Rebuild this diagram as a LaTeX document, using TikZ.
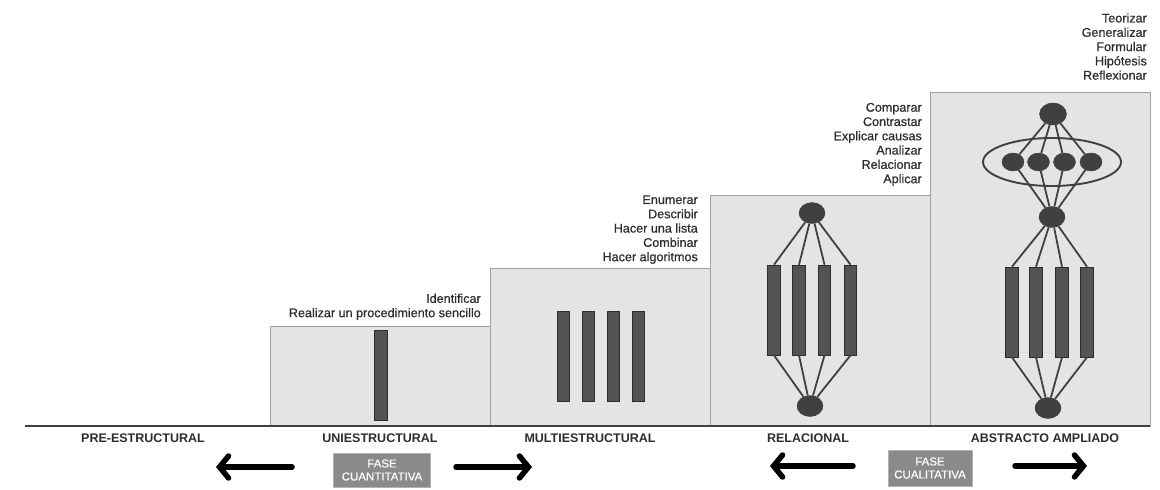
\documentclass[tikz,border=0pt]{standalone}
\usepackage{fontspec}
\setmainfont{Liberation Sans}
\newfontfamily\verbfont{Liberation Sans}[FakeBold=0.6]
\usetikzlibrary{shapes.geometric,arrows.meta}
\definecolor{boxfill}{HTML}{E4E4E4}
\definecolor{boxline}{HTML}{A0A0A0}
\definecolor{ink}{HTML}{404040}
\definecolor{txt}{HTML}{2E2E2E}
\definecolor{phasefill}{HTML}{8A8A8A}
\begin{document}
\begin{tikzpicture}[x=1pt,y=-1pt,
  level/.style={rectangle, draw=boxline, fill=boxfill, line width=1pt, anchor=south west, inner sep=0, outer sep=0},
  bar/.style={rectangle, draw=ink!70!black, fill=ink!90, line width=0.6pt, minimum width=12.5pt, minimum height=90pt, inner sep=0},
  blob/.style={ellipse, fill=ink, draw=ink, minimum width=26pt, minimum height=21pt, inner sep=0},
  dot/.style={blob, minimum width=22pt, minimum height=18pt},
  link/.style={draw=ink, line width=1.8pt},
  verbs/.style={align=right, anchor=south east, font=\verbfont\fontsize{12.6}{14.3}\selectfont, text=txt, inner sep=0},
  stage/.style={font=\bfseries\fontsize{12.5}{13}\selectfont, text=txt, inner sep=0},
  phase/.style={rectangle, fill=phasefill, draw=gray!60, text=white, align=center, font=\verbfont\fontsize{11.5}{13}\selectfont, minimum width=97pt, minimum height=34pt, inner sep=1pt},
  bigarrow/.style={line width=5.5pt, line cap=round, -{Straight Barb[length=9pt,width=22pt,line cap=round]}}
]
\useasboundingbox[fill=white] (0,0) rectangle (1160,490);

% level boxes
\node[level, minimum width=220pt, minimum height=100pt] (uni) at (270,426) {};
\node[level, minimum width=220pt, minimum height=158pt] (multi) at (490,426) {};
\node[level, minimum width=220pt, minimum height=231pt] (rel) at (710,426) {};
\node[level, minimum width=220pt, minimum height=334pt] (abs) at (930,426) {};

% ground line
\coordinate (g0) at (25,426);
\coordinate (g1) at (1150,426);
\draw[line width=1.6pt, ink] (g0) -- (g1);

% unistructural
\node[bar] (u1) at (381,375) {};

% multistructural
\node[bar] (m1) at (563.5,356) {};
\node[bar] (m2) at (588.5,356) {};
\node[bar] (m3) at (613.5,356) {};
\node[bar] (m4) at (638.5,356) {};

% relational
\node[blob] (rt) at (812,213) {};
\node[bar] (r1) at (774,310) {};
\node[bar] (r2) at (799,310) {};
\node[bar] (r3) at (824.5,310) {};
\node[bar] (r4) at (850.5,310) {};
\node[blob] (rb) at (810,406) {};
\foreach \i in {1,...,4}{
  \draw[link] (rt) -- (r\i.north);
  \draw[link] (r\i.south) -- (rb);
}

% extended abstract
\node[ellipse, draw=ink, line width=1.9pt, minimum width=138pt, minimum height=48pt, inner sep=0] (ring) at (1052,162) {};
\node[blob, minimum width=27pt, minimum height=22pt] (at) at (1053,114) {};
\node[dot] (s1) at (1013,162) {};
\node[dot] (s2) at (1038.5,162) {};
\node[dot] (s3) at (1064.5,162) {};
\node[dot] (s4) at (1091,162) {};
\node[blob] (am) at (1052,217) {};
\node[bar] (a1) at (1012,312) {};
\node[bar] (a2) at (1036,312) {};
\node[bar] (a3) at (1062,312) {};
\node[bar] (a4) at (1087,312) {};
\node[blob] (ab) at (1048,408) {};
\foreach \i in {1,...,4}{
  \draw[link] (at) -- (s\i);
  \draw[link] (s\i) -- (am);
  \draw[link] (am) -- (a\i.north);
  \draw[link] (a\i.south) -- (ab);
}

% verbs of each level
\node[verbs] (vu) at (481,320) {Identificar\\Realizar un procedimiento sencillo};
\node[verbs] (vm) at (698,264) {Enumerar\\Describir\\Hacer una lista\\Combinar\\Hacer algoritmos};
\node[verbs] (vr) at (922,186) {Comparar\\Contrastar\\Explicar causas\\Analizar\\Relacionar\\Aplicar};
\node[verbs] (va) at (1147,80) {Teorizar\\Generalizar\\Formular\\Hipótesis\\Reflexionar};

% level names
\node[stage] (n0) at (143,438) {PRE-ESTRUCTURAL};
\node[stage] (n1) at (380,438) {UNIESTRUCTURAL};
\node[stage] (n2) at (590,438) {MULTIESTRUCTURAL};
\node[stage] (n3) at (808,438) {RELACIONAL};
\node[stage] (n4) at (1045,438) {ABSTRACTO AMPLIADO};

% phases, each between its two arrows
\node[phase] (fq) at (382,470) {FASE\\CUANTITATIVA};
\node[phase, minimum width=84pt, minimum height=36pt] (fc) at (930,468) {FASE\\CUALITATIVA};
\coordinate (qLs) at (292,467);
\coordinate (qL) at (216,467);
\coordinate (qRs) at (456,467);
\coordinate (qR) at (532,467);
\coordinate (cLs) at (853,466);
\coordinate (cL) at (770,466);
\coordinate (cRs) at (1015,466);
\coordinate (cR) at (1087,466);
\draw[bigarrow] (qLs) -- (qL);
\draw[bigarrow] (qRs) -- (qR);
\draw[bigarrow] (cLs) -- (cL);
\draw[bigarrow] (cRs) -- (cR);
\end{tikzpicture}
\end{document}
